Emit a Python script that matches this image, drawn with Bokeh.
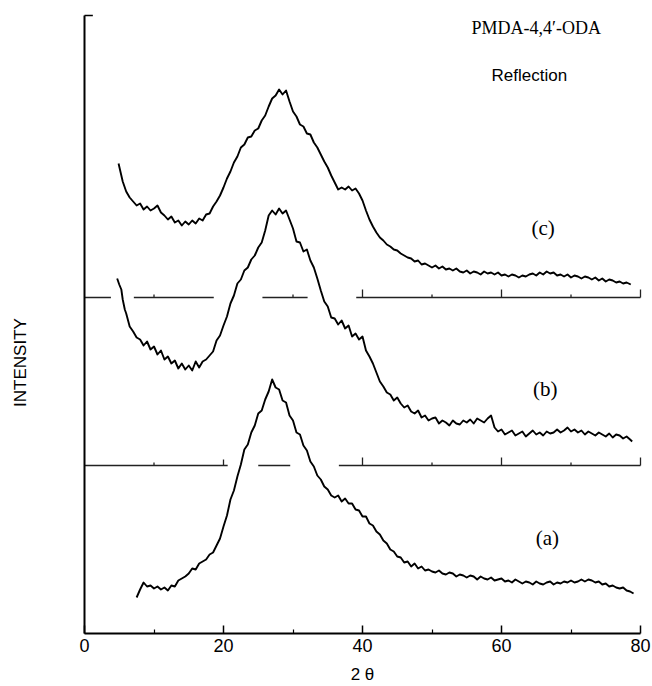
import math
from bokeh.plotting import figure
from bokeh.models import Range1d, FixedTicker, Label
from bokeh.embed import file_html
from bokeh.resources import INLINE

# ---------------- data (2θ in degrees, intensity in arbitrary units) ----------------
a_x = [7.5, 8.0, 8.5, 9.0, 9.5, 10.0, 10.5, 11.0, 11.5, 12.0, 12.5, 13.0, 13.5, 14.0, 14.5,
       15.0, 15.5, 16.0, 16.5, 17.0, 17.5, 18.0, 18.5, 19.0, 19.5, 20.0, 20.5, 21.0, 21.5,
       22.0, 22.5, 23.0, 23.5, 24.0, 24.5, 25.0, 25.5, 26.0, 26.5, 27.0, 27.5, 28.0, 28.5,
       29.0, 29.5, 30.0, 30.5, 31.0, 31.5, 32.0, 32.5, 33.0, 33.5, 34.0, 34.5, 35.0, 35.5,
       36.0, 36.5, 37.0, 37.5, 38.0, 38.5, 39.0, 39.5, 40.0, 40.5, 41.0, 41.5, 42.0, 42.5,
       43.0, 43.5, 44.0, 44.5, 45.0, 45.5, 46.0, 46.5, 47.0, 47.5, 48.0, 48.5, 49.0, 49.5,
       50.0, 50.5, 51.0, 51.5, 52.0, 52.5, 53.0, 53.5, 54.0, 54.5, 55.0, 55.5, 56.0, 56.5,
       57.0, 57.5, 58.0, 58.5, 59.0, 59.5, 60.0, 60.5, 61.0, 61.5, 62.0, 62.5, 63.0, 63.5,
       64.0, 64.5, 65.0, 65.5, 66.0, 66.5, 67.0, 67.5, 68.0, 68.5, 69.0, 69.5, 70.0, 70.5,
       71.0, 71.5, 72.0, 72.5, 73.0, 73.5, 74.0, 74.5, 75.0, 75.5, 76.0, 76.5, 77.0, 77.5,
       78.0, 78.5, 79.0]
a_y = [36, 44, 51, 47, 48, 45, 47, 44, 46, 43, 48, 47, 53, 55, 57,
       60, 65, 64, 70, 72, 74, 79, 81, 88, 95, 107, 118, 134, 143,
       157, 169, 184, 189, 201, 208, 220, 223, 234, 242, 254, 246, 244, 233,
       231, 218, 213, 201, 199, 188, 183, 172, 167, 158, 154, 147, 144, 138,
       136, 138, 132, 135, 130, 130, 124, 123, 117, 117, 110, 108, 102, 99,
       93, 90, 84, 82, 77, 76, 71, 72, 67, 70, 65, 67, 63, 64,
       62, 61, 63, 60, 59, 61, 60, 57, 59, 58, 56, 58, 57, 54,
       57, 55, 54, 56, 53, 54, 55, 52, 53, 51, 54, 52, 50, 52,
       51, 49, 52, 50, 49, 51, 52, 49, 51, 50, 52, 51, 53, 51,
       52, 54, 52, 54, 53, 51, 52, 49, 50, 47, 48, 46, 45, 46,
       43, 42, 40]

b_x = [4.7, 5.0, 5.3, 5.5, 5.8, 6.0, 6.5, 7.0, 7.5, 8.0, 8.5, 9.0, 9.5, 10.0, 10.5, 11.0,
       11.5, 12.0, 12.5, 13.0, 13.5, 14.0, 14.5, 15.0, 15.5, 16.0, 16.5, 17.0, 17.5, 18.0,
       18.5, 19.0, 19.5, 20.0, 20.5, 21.0, 21.5, 22.0, 22.5, 23.0, 23.5, 24.0, 24.5, 25.0,
       25.5, 26.0, 26.5, 27.0, 27.5, 28.0, 28.5, 29.0, 29.5, 30.0, 30.5, 31.0, 31.5, 32.0,
       32.5, 33.0, 33.5, 34.0, 34.5, 35.0, 35.5, 36.0, 36.5, 37.0, 37.5, 38.0, 38.5, 39.0,
       39.5, 40.0, 40.5, 41.0, 41.5, 42.0, 42.5, 43.0, 43.5, 44.0, 44.5, 45.0, 45.5, 46.0,
       46.5, 47.0, 47.5, 48.0, 48.5, 49.0, 49.5, 50.0, 50.5, 51.0, 51.5, 52.0, 52.5, 53.0,
       53.5, 54.0, 54.5, 55.0, 55.5, 56.0, 56.5, 57.0, 57.5, 58.0, 58.5, 59.0, 59.5, 60.0,
       60.5, 61.0, 61.5, 62.0, 62.5, 63.0, 63.5, 64.0, 64.5, 65.0, 65.5, 66.0, 66.5, 67.0,
       67.5, 68.0, 68.5, 69.0, 69.5, 70.0, 70.5, 71.0, 71.5, 72.0, 72.5, 73.0, 73.5, 74.0,
       74.5, 75.0, 75.5, 76.0, 76.5, 77.0, 77.5, 78.0, 78.5, 78.8]
b_y = [355, 349, 344, 334, 324, 320, 307, 302, 296, 294, 288, 292, 284, 287, 279, 283,
       274, 277, 270, 273, 265, 270, 264, 268, 263, 272, 266, 272, 274, 278,
       282, 293, 298, 308, 317, 330, 338, 350, 354, 363, 366, 374, 378, 386,
       391, 403, 418, 423, 419, 425, 420, 423, 414, 405, 392, 391, 382, 384,
       373, 366, 355, 343, 332, 327, 316, 315, 309, 313, 305, 308, 297, 300,
       294, 297, 283, 277, 270, 261, 252, 247, 241, 239, 233, 236, 230, 226,
       228, 222, 220, 223, 216, 218, 213, 215, 216, 210, 213, 211, 208, 213,
       210, 209, 213, 211, 214, 210, 215, 213, 211, 215, 218, 206, 202, 204,
       199, 201, 203, 198, 200, 202, 197, 200, 203, 199, 201, 198, 202, 200,
       201, 204, 201, 203, 206, 202, 204, 201, 203, 199, 202, 200, 198, 201,
       199, 197, 200, 196, 199, 198, 195, 197, 194, 192]

c_x = [4.9, 5.2, 5.5, 6.0, 6.5, 7.0, 7.5, 8.0, 8.5, 9.0, 9.5, 10.0, 10.5, 11.0, 11.5, 12.0,
       12.5, 13.0, 13.5, 14.0, 14.5, 15.0, 15.5, 16.0, 16.5, 17.0, 17.5, 18.0, 18.5, 19.0,
       19.5, 20.0, 20.5, 21.0, 21.5, 22.0, 22.5, 23.0, 23.5, 24.0, 24.5, 25.0, 25.5, 26.0,
       26.5, 27.0, 27.5, 28.0, 28.5, 29.0, 29.5, 30.0, 30.5, 31.0, 31.5, 32.0, 32.5, 33.0,
       33.5, 34.0, 34.5, 35.0, 35.5, 36.0, 36.5, 37.0, 37.5, 38.0, 38.5, 39.0, 39.5, 40.0,
       40.5, 41.0, 41.5, 42.0, 42.5, 43.0, 43.5, 44.0, 44.5, 45.0, 45.5, 46.0, 46.5, 47.0,
       47.5, 48.0, 48.5, 49.0, 49.5, 50.0, 50.5, 51.0, 51.5, 52.0, 52.5, 53.0, 53.5, 54.0,
       54.5, 55.0, 55.5, 56.0, 56.5, 57.0, 57.5, 58.0, 58.5, 59.0, 59.5, 60.0, 60.5, 61.0,
       61.5, 62.0, 62.5, 63.0, 63.5, 64.0, 64.5, 65.0, 65.5, 66.0, 66.5, 67.0, 67.5, 68.0,
       68.5, 69.0, 69.5, 70.0, 70.5, 71.0, 71.5, 72.0, 72.5, 73.0, 73.5, 74.0, 74.5, 75.0,
       75.5, 76.0, 76.5, 77.0, 77.5, 78.0, 78.6]
c_y = [470, 461, 452, 442, 436, 432, 428, 430, 424, 427, 423, 425, 428, 421, 418, 414,
       417, 411, 413, 408, 412, 409, 413, 410, 415, 413, 419, 420, 427, 432,
       438, 446, 455, 462, 471, 477, 486, 489, 496, 497, 503, 505, 513, 518,
       527, 535, 538, 544, 539, 543, 532, 522, 517, 509, 507, 500, 499, 491,
       486, 479, 472, 466, 458, 451, 444, 446, 444, 447, 443, 445, 440, 433,
       423, 414, 407, 401, 396, 393, 389, 387, 384, 383, 380, 378, 376, 375,
       372, 373, 369, 370, 368, 366, 368, 365, 367, 364, 365, 363, 365, 362,
       361, 363, 360, 362, 361, 359, 362, 360, 361, 359, 361, 358, 359, 357,
       359, 358, 356, 358, 357, 359, 360, 358, 361, 359, 362, 360, 361, 358,
       359, 357, 359, 356, 358, 357, 355, 357, 356, 354, 356, 353, 355, 352,
       354, 353, 351, 352, 350, 351, 349]

# zero lines of the offset patterns (b) and (c), drawn with gaps where curves cross
base_b_level = 168
base_b_start = [0.0, 25.0, 36.6]
base_b_end = [20.6, 29.6, 80.0]
base_b_ticks = [10, 20, 40, 50, 60, 70, 80]
base_b_tick_len = [3, 6, 8, 3, 8, 3, 8]

base_c_level = 336
base_c_start = [0.0, 7.1, 25.6, 39.1]
base_c_end = [3.8, 18.6, 32.1, 80.0]
base_c_ticks = [10, 30, 40, 50, 60, 70, 80]
base_c_tick_len = [3, 3, 8, 3, 8, 3, 8]

x_major = [0, 20, 40, 60, 80]
x_minor = [10, 30, 50, 70]
y_top = 618

# ---------------- figure ----------------
# the frame covers the whole page; the axes are pinned at 2θ = 0 and intensity = 0
PX_PER_DEG = 6.95
p = figure(width=652, height=686, output_backend="svg", toolbar_location=None,
           x_range=Range1d(-84 / PX_PER_DEG, (652 - 84) / PX_PER_DEG),
           y_range=Range1d(-53, 633),
           min_border_left=0, min_border_right=0, min_border_top=0,
           min_border_bottom=0)
p.outline_line_color = None
p.xgrid.visible = False
p.ygrid.visible = False
p.background_fill_color = "white"
p.border_fill_color = "white"

# x axis
xa = p.xaxis[0]
xa.fixed_location = 0
xa.bounds = (0, 80)
xa.ticker = FixedTicker(ticks=x_major, minor_ticks=x_minor)
xa.axis_line_width = 2
xa.axis_line_color = "black"
xa.major_tick_in = 8
xa.major_tick_out = 0
xa.minor_tick_in = 4
xa.minor_tick_out = 0
xa.major_tick_line_width = 1.5
xa.minor_tick_line_width = 1.2
xa.major_tick_line_color = "black"
xa.minor_tick_line_color = "black"
xa.major_label_text_font = "Liberation Sans"
xa.major_label_text_font_size = "18px"
xa.major_label_text_color = "black"
xa.major_label_standoff = 5

# y axis
ya = p.yaxis[0]
ya.fixed_location = 0
ya.bounds = (0, y_top)
ya.ticker = FixedTicker(ticks=[])
ya.major_label_text_font_size = "0px"
ya.major_tick_in = 0
ya.major_tick_out = 0
ya.minor_tick_in = 0
ya.minor_tick_out = 0
ya.axis_line_width = 2
ya.axis_line_color = "black"

# top bracket of the intensity axis
p.segment(x0=[0], y0=[y_top], x1=[1.2], y1=[y_top], line_color="black", line_width=1.5)

# baselines
p.segment(x0=base_b_start, y0=[base_b_level] * len(base_b_start),
          x1=base_b_end, y1=[base_b_level] * len(base_b_end),
          line_color="#222222", line_width=1.3)
p.segment(x0=base_b_ticks, y0=[base_b_level] * len(base_b_ticks),
          x1=base_b_ticks, y1=[base_b_level + l for l in base_b_tick_len],
          line_color="#222222", line_width=1.3)
p.segment(x0=base_c_start, y0=[base_c_level] * len(base_c_start),
          x1=base_c_end, y1=[base_c_level] * len(base_c_end),
          line_color="#222222", line_width=1.3)
p.segment(x0=base_c_ticks, y0=[base_c_level] * len(base_c_ticks),
          x1=base_c_ticks, y1=[base_c_level + l for l in base_c_tick_len],
          line_color="#222222", line_width=1.3)

# curves
for xs, ys in ((a_x, a_y), (b_x, b_y), (c_x, c_y)):
    p.line(x=xs, y=ys, line_color="black", line_width=1.9, line_join="round")

# axis titles
p.add_layout(Label(x=40, y=-41, text="2 θ", text_font="Liberation Sans",
                   text_font_size="17px", text_align="center", text_baseline="middle",
                   text_color="black"))
p.add_layout(Label(x=-9.2, y=271, text="INTENSITY", text_font="Liberation Sans",
                   text_font_size="17px", text_align="center", text_baseline="middle",
                   angle=math.pi / 2, text_color="black"))

# annotations
p.add_layout(Label(x=65.0, y=606, text="PMDA-4,4′-ODA", text_font="Liberation Serif",
                   text_font_size="18px", text_align="center", text_baseline="middle",
                   text_color="black"))
p.add_layout(Label(x=64.0, y=558, text="Reflection", text_font="Liberation Sans",
                   text_font_size="17px", text_align="center", text_baseline="middle",
                   text_color="black"))
for lx, ly, lt in ((66.0, 406, "(c)"), (66.3, 245, "(b)"), (66.6, 96, "(a)")):
    p.add_layout(Label(x=lx, y=ly, text=lt, text_font="Liberation Serif",
                       text_font_size="21px", text_align="center", text_baseline="middle",
                       text_color="black"))

open("out.html", "w").write(file_html(p, INLINE))
